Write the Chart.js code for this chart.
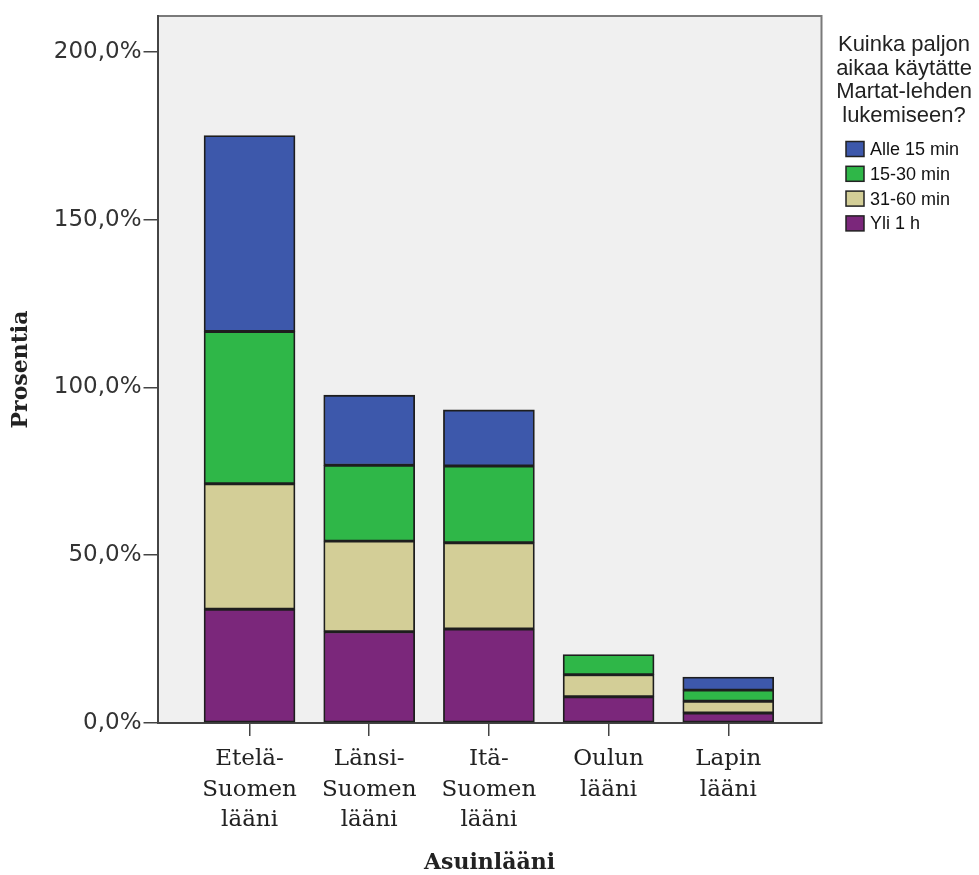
<!DOCTYPE html>
<html>
<head>
<meta charset="utf-8">
<script src="https://cdn.jsdelivr.net/npm/chart.js@4/dist/chart.umd.min.js"></script>
<style>
  body { margin: 0; background: #fff; }
  canvas { display: block; }
</style>
</head>
<body>
<canvas id="chart" width="979" height="875"></canvas>
<script>
const categories = [
  ["Etelä-", "Suomen", "lääni"],
  ["Länsi-", "Suomen", "lääni"],
  ["Itä-", "Suomen", "lääni"],
  ["Oulun", "lääni"],
  ["Lapin", "lääni"]
];
const yli1h = [33.9, 27.2, 28.0, 7.8, 3.0];
const min31to60 = [37.4, 27.0, 25.7, 6.6, 3.5];
const min15to30 = [45.4, 22.6, 22.9, 6.0, 3.3];
const alle15 = [58.4, 20.9, 16.7, null, 3.9];
const yTicks = [0, 50, 100, 150, 200];
const legendTitle = ["Kuinka paljon", "aikaa käytätte", "Martat-lehden", "lukemiseen?"];

function points(values) {
  return values.map((v, i) => ({ x: i + 1, y: v }));
}

function series(label, values, color) {
  return {
    label: label,
    data: points(values),
    backgroundColor: color,
    borderColor: "#1e1e1e",
    borderWidth: 1.8,
    borderSkipped: false,
    barThickness: 91
  };
}

// plot frame + grey background
const plotFrame = {
  id: "plotFrame",
  beforeDraw(chart) {
    const a = chart.chartArea;
    const ctx = chart.ctx;
    ctx.save();
    ctx.fillStyle = "#f0f0f0";
    ctx.fillRect(a.left, a.top, a.right - a.left, a.bottom - a.top);
    ctx.strokeStyle = "#7a7a7a";
    ctx.lineWidth = 2;
    ctx.beginPath();
    ctx.moveTo(a.left, a.top);
    ctx.lineTo(a.right, a.top);
    ctx.lineTo(a.right, a.bottom);
    ctx.stroke();
    ctx.restore();
  }
};

const legendBox = {
  id: "legendBox",
  afterDraw(chart) {
    const ctx = chart.ctx;
    ctx.save();
    ctx.fillStyle = "#222";
    ctx.font = '22px "Liberation Sans"';
    ctx.textAlign = "center";
    ctx.textBaseline = "middle";
    legendTitle.forEach((t, i) => ctx.fillText(t, 904, 45 + i * 23.5));

    ctx.font = '18px "Liberation Sans"';
    ctx.textAlign = "left";
    chart.data.datasets.slice().reverse().forEach((ds, i) => {
      const y = 149 + i * 24.8;
      ctx.fillStyle = ds.backgroundColor;
      ctx.fillRect(846, y - 7.5, 18, 15);
      ctx.strokeStyle = "#222";
      ctx.lineWidth = 1.5;
      ctx.strokeRect(846, y - 7.5, 18, 15);
      ctx.fillStyle = "#111";
      ctx.fillText(ds.label, 870, y + 1);
    });
    ctx.restore();
  }
};

new Chart(document.getElementById("chart"), {
  type: "bar",
  data: {
    datasets: [
      series("Yli 1 h", yli1h, "#7b277b"),
      series("31-60 min", min31to60, "#d3ce97"),
      series("15-30 min", min15to30, "#2fb748"),
      series("Alle 15 min", alle15, "#3d58ab")
    ]
  },
  options: {
    responsive: false,
    animation: false,
    devicePixelRatio: 1,
    layout: { padding: { left: 0, top: 16, right: 157.5, bottom: 0 } },
    plugins: { legend: { display: false }, tooltip: { enabled: false } },
    scales: {
      x: {
        type: "linear",
        stacked: true,
        offset: false,
        min: 0.231,
        max: 5.779,
        afterBuildTicks: s => { s.ticks = categories.map((c, i) => ({ value: i + 1 })); },
        afterFit: s => { s.height = 152; },
        grid: { offset: false, drawOnChartArea: false, tickLength: 13, color: "#444", lineWidth: 1.5 },
        border: { display: true, color: "#444", width: 2 },
        ticks: {
          autoSkip: false,
          maxRotation: 0,
          padding: 8,
          color: "#222",
          font: { family: "DejaVu Serif", size: 23, lineHeight: 1.33 },
          callback: v => categories[Math.round(v) - 1]
        },
        title: {
          display: true,
          text: "Asuinlääni",
          color: "#222",
          padding: { top: 0, bottom: 0 },
          font: { family: "DejaVu Serif", size: 22, weight: "bold", lineHeight: 1.1 }
        }
      },
      y: {
        stacked: true,
        min: 0,
        max: 210.7,
        afterBuildTicks: s => { s.ticks = yTicks.map(v => ({ value: v })); },
        afterFit: s => { s.width = 157.5; },
        grid: { drawOnChartArea: false, tickLength: 14, color: "#444", lineWidth: 1.5 },
        border: { display: true, color: "#444", width: 2 },
        ticks: {
          padding: 2,
          color: "#333",
          font: { family: "DejaVu Sans", size: 23 },
          callback: v => v.toFixed(1).replace(".", ",") + "%"
        },
        title: {
          display: true,
          text: "Prosentia",
          color: "#222",
          padding: { top: 8, bottom: 0 },
          font: { family: "DejaVu Serif", size: 22, weight: "bold" }
        }
      }
    }
  },
  plugins: [plotFrame, legendBox]
});
</script>
</body>
</html>
